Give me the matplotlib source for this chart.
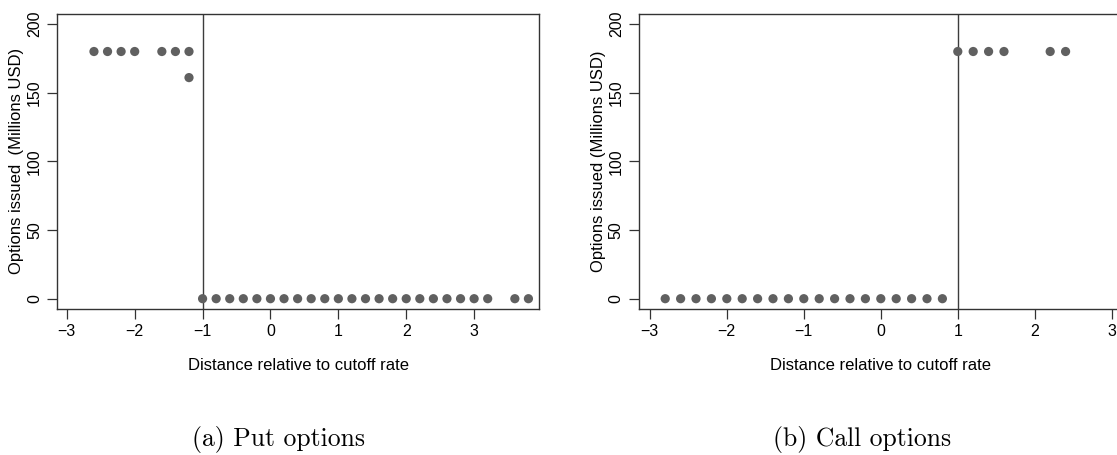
import matplotlib.pyplot as plt

# put options: distance to cutoff and amount issued
put_x = [-2.6, -2.4, -2.2, -2.0, -1.6, -1.4, -1.2, -1.2,
         -1.0, -0.8, -0.6, -0.4, -0.2, 0.0, 0.2, 0.4, 0.6, 0.8, 1.0,
         1.2, 1.4, 1.6, 1.8, 2.0, 2.2, 2.4, 2.6, 2.8, 3.0, 3.2, 3.6, 3.8]
put_y = [180, 180, 180, 180, 180, 180, 180, 161,
         0, 0, 0, 0, 0, 0, 0, 0, 0, 0, 0,
         0, 0, 0, 0, 0, 0, 0, 0, 0, 0, 0, 0, 0]

# call options
call_x = [-2.8, -2.6, -2.4, -2.2, -2.0, -1.8, -1.6, -1.4, -1.2, -1.0,
          -0.8, -0.6, -0.4, -0.2, 0.0, 0.2, 0.4, 0.6, 0.8,
          1.0, 1.2, 1.4, 1.6, 2.2, 2.4]
call_y = [0, 0, 0, 0, 0, 0, 0, 0, 0, 0,
          0, 0, 0, 0, 0, 0, 0, 0, 0,
          180, 180, 180, 180, 180, 180]

xticks = [-3, -2, -1, 0, 1, 2, 3]
yticks = [0, 50, 100, 150, 200]

plt.rcParams['font.family'] = ['Liberation Sans', 'DejaVu Sans']
plt.rcParams['axes.unicode_minus'] = True

fig = plt.figure(figsize=(11.17, 4.55), dpi=100)

panels = [
    dict(pos=[0.0513, 0.3215, 0.4315, 0.6477], x=put_x, y=put_y, cut=-1,
         xlim=(-3.14, 3.96), ylabel='Options issued  (Millions USD)',
         caption='(a) Put options', cap_x=279),
    dict(pos=[0.5721, 0.3215, 0.4315, 0.6477], x=call_x, y=call_y, cut=1,
         xlim=(-3.14, 3.12), ylabel='Options issued (Millions USD)',
         caption='(b) Call options', cap_x=862),
]

for p in panels:
    ax = fig.add_axes(p['pos'])
    ax.scatter(p['x'], p['y'], s=44, color='#606060', edgecolors='none',
               zorder=3, clip_on=False)
    ax.axvline(p['cut'], color='#3c3c3c', lw=1.0, zorder=2)
    ax.set_xlim(*p['xlim'])
    ax.set_ylim(-7.3, 207.3)
    ax.set_xticks(xticks)
    ax.set_yticks(yticks)
    ax.tick_params(axis='both', length=7, width=0.9, color='#333333',
                   labelsize=11.5, pad=4)
    for lab in ax.get_yticklabels():
        lab.set_rotation(90)
        lab.set_va('center')
    for sp in ax.spines.values():
        sp.set_color('#333333')
        sp.set_linewidth(1.0)
    ax.set_xlabel('Distance relative to cutoff rate', fontsize=12, labelpad=14)
    ax.set_ylabel(p['ylabel'], fontsize=12, labelpad=2)
    fig.text(p['cap_x'] / 1117, 1 - 446 / 455, p['caption'],
             family='cmr10', fontsize=18.5, ha='center', va='baseline')

fig.savefig('out.png', dpi=100)
